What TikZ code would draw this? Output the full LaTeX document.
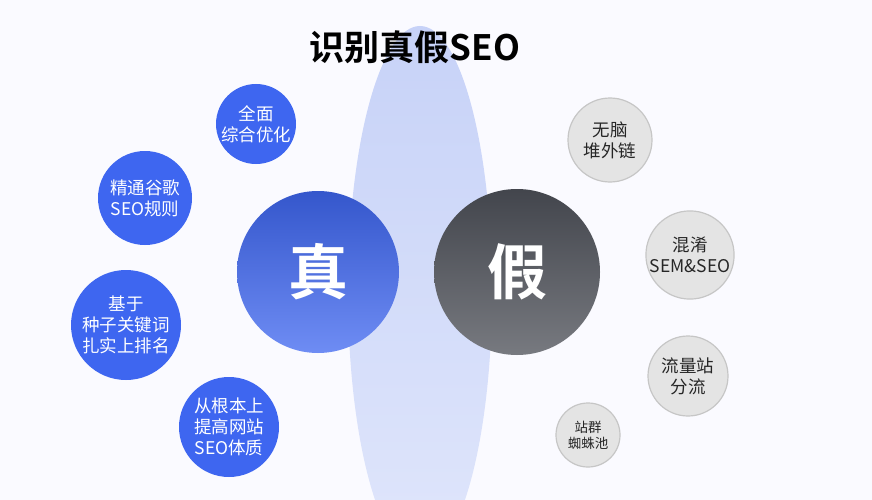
\documentclass[tikz,border=0pt]{standalone}
\usepackage{fontspec}
\setmainfont{Noto Sans CJK SC}
\newfontfamily\cjkbold{Noto Sans CJK SC Bold}
\usetikzlibrary{positioning}
\definecolor{trueblue}{HTML}{3E66F0}
\definecolor{fakedark}{HTML}{4A4D55}
\definecolor{lensblue}{HTML}{B9C7F6}
\definecolor{greyfill}{HTML}{E4E4E4}
\tikzset{
  x=1pt, y=-1pt,
  bigcirc/.style={circle, inner sep=0pt, font=\cjkbold\fontsize{60}{60}\selectfont, text=white},
  truec/.style={circle, align=center, inner sep=0pt, fill=trueblue, text=white,
    font=\fontsize{17.5}{21}\selectfont},
  fakec/.style={circle, align=center, inner sep=0pt, fill=greyfill, draw=gray!45, line width=1.2pt,
    text=black!85, font=\fontsize{17.5}{21}\selectfont}
}
\begin{document}
\begin{tikzpicture}
  \useasboundingbox (0,0) rectangle (872,500);
  \fill[blue!2] (0,0) rectangle (872,500);
  % lens between the two halves
  \shade[top color=lensblue!80, bottom color=lensblue!45] (420,292) ellipse (72 and 266);
  \node (title) at (415,47) {\cjkbold\fontsize{35}{35}\selectfont 识别真假SEO};
  % main circles
  \node[bigcirc, minimum size=162pt, top color=trueblue!85!black, bottom color=trueblue!75!white] (zhen) at (318,272) {真};
  \node[bigcirc, minimum size=166pt, top color=fakedark!90!black, bottom color=fakedark!75!white] (jia) at (517,272) {假};
  % true side
  \node[truec, minimum size=80pt] (t1) at (256,124) {全面\\综合优化};
  \node[truec, minimum size=94pt] (t2) at (145,198) {精通谷歌\\SEO规则};
  \node[truec, minimum size=110pt] (t3) at (126,325) {基于\\种子关键词\\扎实上排名};
  \node[truec, minimum size=100pt] (t4) at (229,427) {从根本上\\提高网站\\SEO体质};
  % fake side
  \node[fakec, minimum size=84pt] (f1) at (610,140) {无脑\\堆外链};
  \node[fakec, minimum size=86pt] (f2) at (690,255) {混淆\\SEM\&SEO};
  \node[fakec, minimum size=80pt] (f3) at (688,376) {流量站\\分流};
  \node[fakec, minimum size=64pt, font=\fontsize{13.5}{16}\selectfont] (f4) at (588,435) {站群\\蜘蛛池};
\end{tikzpicture}
\end{document}
